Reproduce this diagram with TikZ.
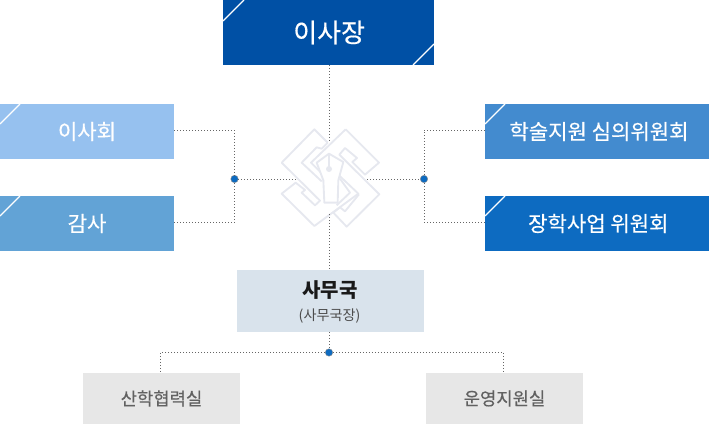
\documentclass[tikz,border=0pt]{standalone}
\usepackage{fontspec}
\setmainfont{Noto Sans CJK KR}
\newfontfamily\boxfont[FakeBold=0.35]{Noto Sans CJK KR}
\usetikzlibrary{positioning}
\definecolor{chairblue}{HTML}{0050A5}
\definecolor{boardblue}{HTML}{96C1EF}
\definecolor{auditblue}{HTML}{62A3D6}
\definecolor{reviewblue}{HTML}{438BCF}
\definecolor{grantblue}{HTML}{0D6BC1}
\definecolor{officegray}{HTML}{D9E3EC}
\definecolor{teamgray}{HTML}{E7E7E7}
\definecolor{logogray}{HTML}{E6E8EF}
\definecolor{dotblue}{HTML}{0D6BC1}
\tikzset{
  orgbox/.style={minimum height=41.25pt,inner sep=0pt,font=\boxfont\fontsize{15.8pt}{18pt}\selectfont,text=white},
  teambox/.style={fill=teamgray,minimum width=117.75pt,minimum height=38.25pt,inner sep=0pt,
    font=\boxfont\fontsize{13.3pt}{15pt}\selectfont,text=black!62},
  link/.style={draw=black!60,line width=0.75pt,dash pattern=on 0.75pt off 1.5pt},
  joint/.style={circle,fill=dotblue,draw=black!45,line width=0.3pt,minimum size=5.6pt,inner sep=0pt},
  slash/.style={draw=white,line width=1pt},
  logoline/.style={draw=logogray,line width=1.4pt,line join=round}
}
\begin{document}
\begin{tikzpicture}[x=0.75pt,y=-0.75pt]
  \useasboundingbox (0,0) rectangle (709,424);
  %% boxes
  \node[orgbox,fill=chairblue,minimum width=158.25pt,minimum height=48.75pt,font=\boxfont\fontsize{19.5pt}{22pt}\selectfont] (chair) at (328.5,32.5) {\hspace{1pt}이사장};
  \node[orgbox,fill=boardblue,minimum width=130.5pt] (board) at (87,131.5) {이사회};
  \node[orgbox,fill=auditblue,minimum width=130.5pt] (audit) at (87,223.5) {감사};
  \node[orgbox,fill=reviewblue,minimum width=168pt] (review) at (597,131.5) {\hspace{3pt}학술지원 심의위원회};
  \node[orgbox,fill=grantblue,minimum width=168pt] (grant) at (597,223.5) {\hspace{2pt}장학사업 위원회};
  \node[fill=officegray,minimum width=140.25pt,minimum height=46.5pt,inner sep=0pt] (office) at (330.5,301) {};
  \node[font=\fontsize{15pt}{17pt}\selectfont\bfseries,text=black!90] (officehead) at (330,290) {사무국};
  \node[font=\fontsize{10.6pt}{12pt}\selectfont,text=black!70] (officesub) at (329.5,316) {(사무국장)};
  \node[teambox] (research) at (161.5,398.5) {산학협력실};
  \node[teambox] (support) at (504.5,398.5) {운영지원실};
  %% corner slashes
  \draw[slash] (223,21) -- (244,0);
  \draw[slash] (413,65) -- (434,44);
  \draw[slash] (0,124) -- (20,104);
  \draw[slash] (0,216) -- (20,196);
  \draw[slash] (485,124) -- (505,104);
  \draw[slash] (485,216) -- (505,196);
  %% logo
  \begin{scope}[shift={(275,122)},x=0.25pt,y=-0.25pt]
    \draw[logoline] (158,62) -- (118,22) -- (20,122) -- (135,236) -- (120,250) -- (80,212) -- (90,204)
      -- (62,182) -- (20,215) -- (118,312) -- (250,215) -- (190,158);
    \draw[logoline] (158,62) -- (140,80) -- (125,76) -- (80,122) -- (140,178);
    \draw[logoline] (212,22) -- (312,122) -- (270,158) -- (232,120) -- (246,108) -- (210,78) -- (193,98)
      -- (313,217) -- (215,314) -- (175,272) -- (195,256) -- (210,268) -- (252,217);
    \draw[logoline] (212,22) -- (108,122) -- (138,152);
    \draw[logoline] (195,170) -- (225,212) -- (185,250);
    \draw[logoline,fill=white] (162,95) -- (125,122) -- (145,175) -- (148,242) -- (188,242) -- (190,175) -- (205,120) -- cycle;
    \draw[logoline] (162,95) -- (162,140);
    \fill[logogray] (162,141) circle (9);
  \end{scope}
  %% joints
  \node[joint] (jleft) at (234.5,179) {};
  \node[joint] (jright) at (424,179) {};
  \node[joint] (jbottom) at (329,352.5) {};
  \coordinate (logotop) at (329,143);
  \coordinate (logobot) at (329,214);
  \coordinate (logoleft) at (296,178.5);
  \coordinate (logoright) at (367,178.5);
  %% links
  \draw[link] (chair.south -| logotop) -- (logotop);
  \draw[link] (logobot) -- (logobot |- office.north);
  \draw[link] (jleft) -- (jleft -| logoleft);
  \draw[link] (jright -| logoright) -- (jright);
  \draw[link] ([yshift=1.1pt]board.east) -| (jleft);
  \draw[link] ([yshift=0.9pt]audit.east) -| (jleft);
  \draw[link] ([yshift=1.1pt]review.west) -| (jright);
  \draw[link] ([yshift=0.9pt]grant.west) -| (jright);
  \draw[link] (office.south -| jbottom) -- (jbottom);
  \draw[link] (jbottom) -| (160.5,371);
  \draw[link] (jbottom) -| (503.5,371);
\end{tikzpicture}
\end{document}
